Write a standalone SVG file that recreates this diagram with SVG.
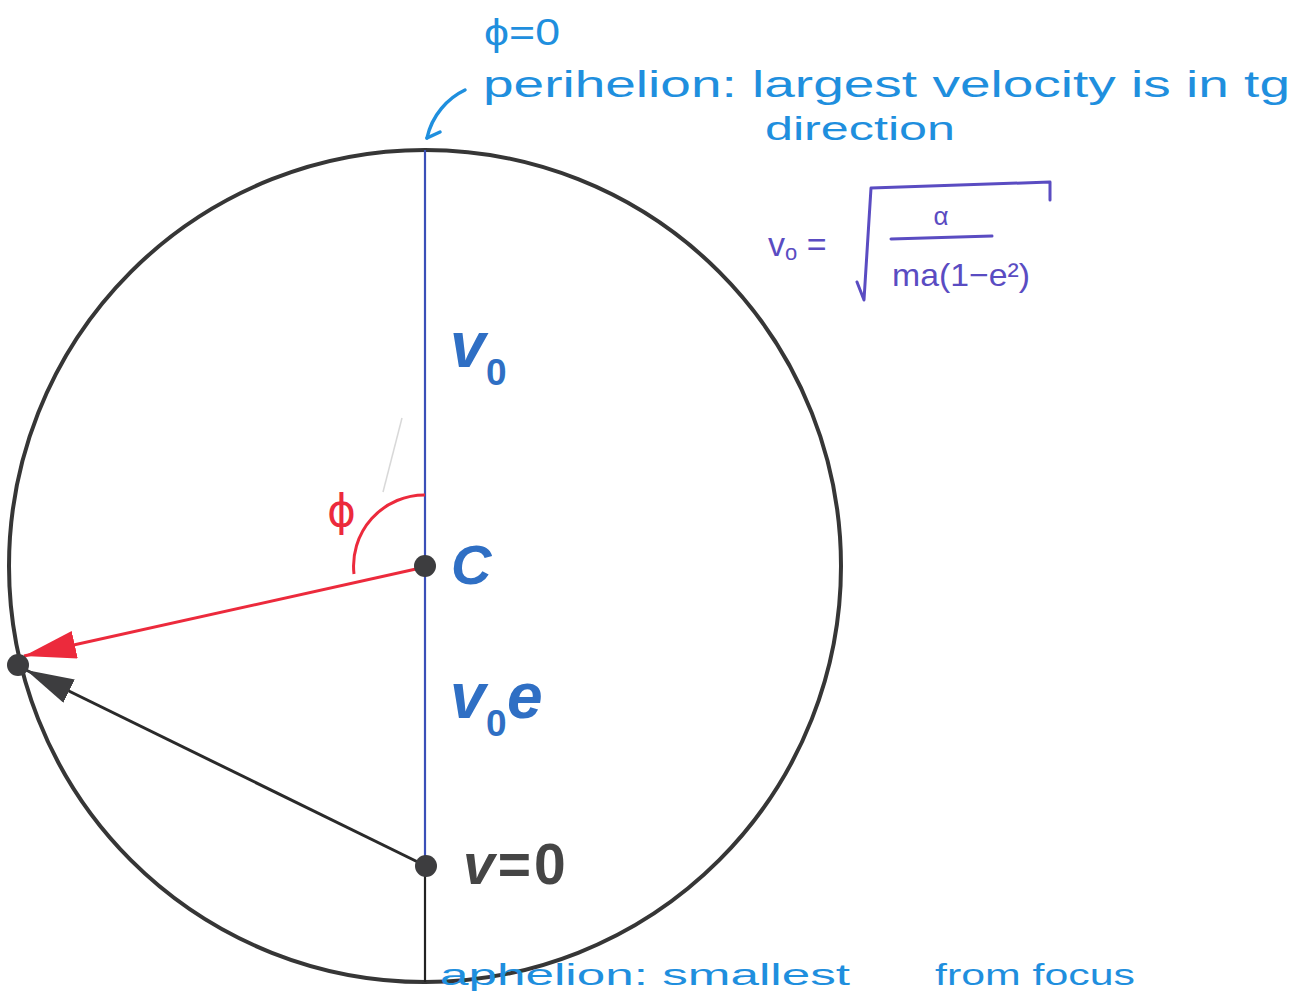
<svg xmlns="http://www.w3.org/2000/svg" width="1306" height="993" viewBox="0 0 1306 993">
<style>
.hand{font-family:"Liberation Sans","DejaVu Sans",sans-serif;fill:#1f8fde;}
.formula{font-family:"Liberation Sans","DejaVu Sans",sans-serif;fill:#5a4cc2;}
.lab{font-family:"Liberation Sans",Arial,sans-serif;font-weight:bold;}
.blue{fill:#2f6fc4;}
.dot{fill:#3d3d3f;}
</style>
<defs>
<marker id="redHead" markerUnits="userSpaceOnUse" viewBox="0 0 52 28" markerWidth="52" markerHeight="28" refX="52" refY="14" orient="auto">
<path d="M0,0 L52,14 L0,28 z" fill="#ec2a3c"/>
</marker>
<marker id="blackHead" markerUnits="userSpaceOnUse" viewBox="0 0 48 26" markerWidth="48" markerHeight="26" refX="48" refY="13" orient="auto">
<path d="M0,0 L48,13 L0,26 z" fill="#3d3d3f"/>
</marker>
</defs>
<rect width="1306" height="993" fill="#ffffff"/>

<g id="orbit">
<circle cx="425" cy="566" r="416" fill="none" stroke="#363636" stroke-width="4"/>
</g>

<g id="connectors">
<line x1="425" y1="150" x2="425" y2="866" stroke="#3a4fb8" stroke-width="2.2"/>
<line x1="425" y1="866" x2="425" y2="982" stroke="#222" stroke-width="2.2"/>
<line x1="425" y1="567" x2="24" y2="656" stroke="#ec2a3c" stroke-width="3" marker-end="url(#redHead)"/>
<line x1="426" y1="866" x2="26" y2="670" stroke="#2a2a2a" stroke-width="3" marker-end="url(#blackHead)"/>
<path d="M425,495 A71,71 0 0 0 354,574" fill="none" stroke="#ec2a3c" stroke-width="3"/>
<path d="M465,90 C448,98 432,115 427,138" fill="none" stroke="#1f8fde" stroke-width="3.5" stroke-linecap="round"/>
<path d="M427,138 L440,132" fill="none" stroke="#1f8fde" stroke-width="3.5" stroke-linecap="round"/>
<line x1="402" y1="418" x2="383" y2="492" stroke="#c8c8c8" stroke-width="1.5" opacity="0.7"/>
</g>

<g id="node-C">
<circle cx="425" cy="566" r="11" class="dot"/>
<text x="451" y="584" class="lab blue" font-size="56" font-style="italic">C</text>
</g>

<g id="node-v0">
<text x="450" y="367" class="lab blue" font-size="64" font-style="italic">v</text>
<text x="486" y="385" class="lab blue" font-size="37">0</text>
</g>

<g id="node-v0e">
<text x="450" y="718" class="lab blue" font-size="64" font-style="italic">v</text>
<text x="486" y="736" class="lab blue" font-size="37">0</text>
<text x="507" y="718" class="lab blue" font-size="64" font-style="italic">e</text>
</g>

<g id="node-v0-bottom">
<circle cx="426" cy="866" r="11" class="dot"/>
<text x="463" y="884" class="lab" font-size="57" fill="#454545" letter-spacing="3"><tspan font-style="italic">v</tspan>=0</text>
</g>

<g id="node-point">
<circle cx="18" cy="665" r="11" class="dot"/>
</g>

<g id="node-phi">
<text x="327" y="526" font-family="DejaVu Sans,sans-serif" font-size="44" fill="#ec2a3c">ϕ</text>
</g>

<g id="notes">
<text x="484" y="45" class="hand" font-size="36" textLength="76" lengthAdjust="spacingAndGlyphs">ϕ=0</text>
<text x="483" y="97" class="hand" font-size="36" textLength="807" lengthAdjust="spacingAndGlyphs">perihelion: largest velocity is in tg</text>
<text x="765" y="140" class="hand" font-size="34" textLength="190" lengthAdjust="spacingAndGlyphs">direction</text>
<text x="440" y="985" class="hand" font-size="30" textLength="410" lengthAdjust="spacingAndGlyphs">aphelion: smallest</text>
<text x="935" y="985" class="hand" font-size="30" textLength="200" lengthAdjust="spacingAndGlyphs">from focus</text>
</g>

<g id="formula">
<text x="768" y="256" class="formula" font-size="34">v<tspan font-size="22" dy="4">o</tspan><tspan dy="-4"> =</tspan></text>
<path d="M857,282 L864,300 L871,188 L1050,182 L1050,200" fill="none" stroke="#5a4cc2" stroke-width="3" stroke-linejoin="round" stroke-linecap="round"/>
<line x1="891" y1="239" x2="992" y2="236" stroke="#5a4cc2" stroke-width="3" stroke-linecap="round"/>
<text x="941" y="225" class="formula" font-size="26" text-anchor="middle">α</text>
<text x="892" y="286" class="formula" font-size="32" textLength="138" lengthAdjust="spacingAndGlyphs">ma(1−e²)</text>
</g>
</svg>
